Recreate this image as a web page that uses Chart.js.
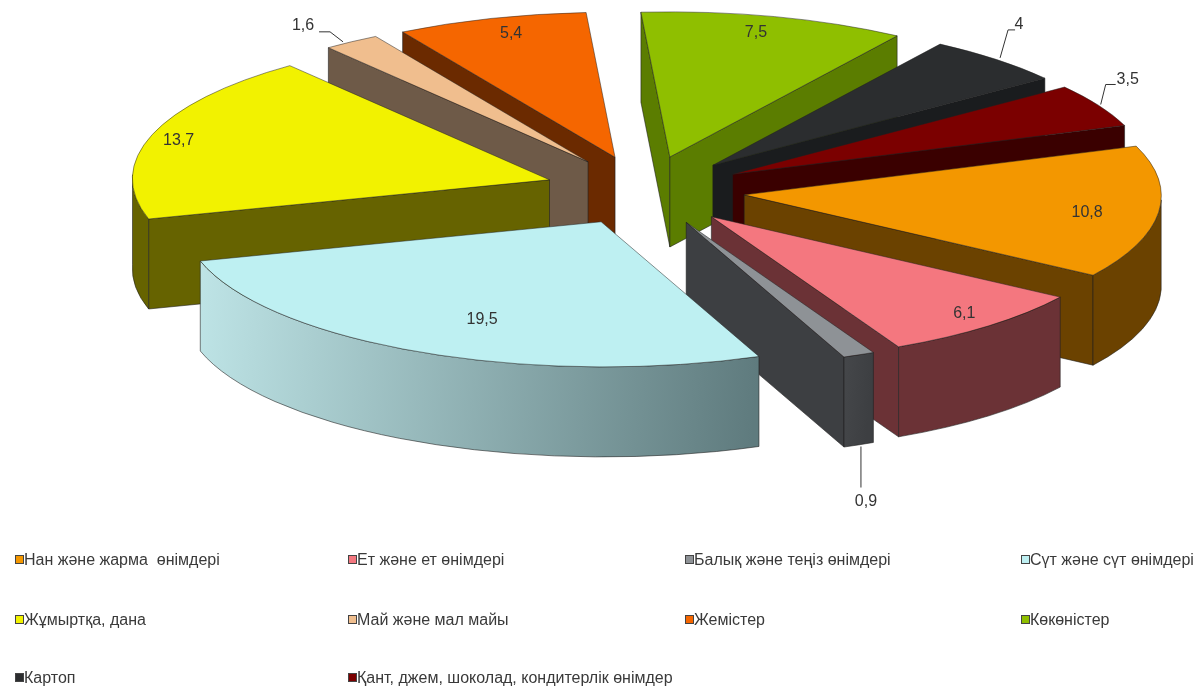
<!DOCTYPE html>
<html>
<head>
<meta charset="utf-8">
<title>Pie</title>
<script src="https://cdn.jsdelivr.net/npm/chart.js@4"></script>
<style>
  html, body { margin: 0; padding: 0; background: #fff; }
  #wrap { position: relative; width: 1200px; height: 688px; overflow: hidden; }
  #pie { position: absolute; left: 0; top: 0; }
  .leg { position: absolute; font: 16px 'Liberation Sans', Arial, sans-serif; color: #3a3a3a; white-space: pre; line-height: 16px; }
  .leg i { display: inline-block; width: 7px; height: 7px; border: 1px solid #444; margin-right: 0; vertical-align: 1px; }
</style>
</head>
<body>
<div id="wrap">
  <canvas id="pie" width="1200" height="688"></canvas>
</div>
<script>
const categories = ['Нан және жарма  өнімдері', 'Ет және ет өнімдері', 'Балық және теңіз өнімдері', 'Сүт және сүт өнімдері', 'Жұмыртқа, дана', 'Май және мал майы', 'Жемістер', 'Көкөністер', 'Картоп', 'Қант, джем, шоколад, кондитерлік өнімдер'];
const values = [10.8, 6.1, 0.9, 19.5, 13.7, 1.6, 5.4, 7.5, 4, 3.5];

const topColors = ['#F39700', '#F4777F', '#8E9296', '#BEF0F2', '#F2F200', '#F0BE8E', '#F56600', '#8FBF00', '#2B2D2F', '#7B0000'];
const wallColors = ['#6B4200', '#6B3236', '#3D3F42', '#5F7B7E', '#666300', '#6E5A48', '#6B2A00', '#5B7D00', '#1A1C1E', '#3A0000'];
const curveFrom = ['#6B4200', '#6B3236', '#45474A', '#BEE4E6', '#666300', '#6E5A48', '#6B2A00', '#5B7D00', '#1A1C1E', '#3A0000'];

// fake 3d: the library lays out a flat pie, this squashes it on screen
const pieCenter = { x: 650, y: 190 };
const radiusX = 417, radiusY = 145, depth = 90;
const explode = 100;
// slight skew to stand in for the original's perspective
const skewX = -0.08, skewY = 0.012, skewOrigin = { x: 600, y: 125 };
const drop = { y: depth / (1 - skewX * skewY), x: -skewX * depth / (1 - skewX * skewY) };

// inside labels: [x, y] spots are fraction of radius and fraction across the slice
const labelSpots = [[0.82, 0.58], [0.9, 0.58], null, [0.74, 0.5], [0.94, 0.51], null, [0.886, 0.58], [0.872, 0.51], null, null];
// outside labels: leader points and text, as offsets from the slice's rim
const leaders = {
  2: { line: [[-16, 95], [-16, 136]], text: [-11, 150] },
  5: { line: [[-2, -3], [-15, -13], [-26, -13]], text: [-42, -19] },
  8: { line: [[9, 3], [17, -25], [24, -25]], text: [28, -30] },
  9: { line: [[4, 5], [9, -15], [19, -15]], text: [31, -20] }
};

const legendCols = [15, 348, 685, 1021];
const legendRows = [552, 612, 670];

function project(el) {
  const sx = radiusX / el.outerRadius, sy = radiusY / el.outerRadius;
  const mid = (el.startAngle + el.endAngle) / 2;
  return {
    sx, sy, mid,
    ax: pieCenter.x + Math.cos(mid) * explode,
    ay: pieCenter.y + Math.sin(mid) * explode * radiusY / radiusX
  };
}

function quad(ctx, pts, fill) {
  ctx.beginPath();
  pts.forEach((p, i) => i ? ctx.lineTo(p[0], p[1]) : ctx.moveTo(p[0], p[1]));
  ctx.closePath();
  ctx.fillStyle = fill;
  ctx.fill();
  ctx.stroke();
}

function drawWalls(ctx, el, i) {
  const p = project(el);
  const a0 = el.startAngle, a1 = el.endAngle;
  const edge = a => [p.ax + Math.cos(a) * radiusX, p.ay + Math.sin(a) * radiusY];
  const wall = a => {
    const e = edge(a);
    return [[p.ax, p.ay], e, [e[0] + drop.x, e[1] + drop.y], [p.ax + drop.x, p.ay + drop.y]];
  };
  ctx.lineWidth = 0.8;
  ctx.strokeStyle = 'rgba(30,30,30,0.7)';
  if (Math.cos(a0) < 0) quad(ctx, wall(a0), wallColors[i]);
  if (Math.cos(a1) > 0) quad(ctx, wall(a1), wallColors[i]);

  const from = Math.max(a0, 0), to = Math.min(a1, Math.PI);
  if (from < to) {
    const xA = edge(from)[0], xB = edge(to)[0];
    const grad = ctx.createLinearGradient(Math.min(xA, xB), 0, Math.max(xA, xB), 0);
    grad.addColorStop(0, curveFrom[i]);
    grad.addColorStop(1, wallColors[i]);
    ctx.beginPath();
    ctx.ellipse(p.ax, p.ay, radiusX, radiusY, 0, from, to);
    ctx.ellipse(p.ax + drop.x, p.ay + drop.y, radiusX, radiusY, 0, to, from, true);
    ctx.closePath();
    ctx.fillStyle = grad;
    ctx.fill();
    ctx.stroke();
  }
}

function drawTop(ctx, chart, el) {
  const p = project(el);
  ctx.save();
  ctx.translate(p.ax, p.ay);
  ctx.scale(p.sx, p.sy);
  ctx.translate(-el.x, -el.y);
  el.draw(ctx, chart.chartArea);
  ctx.restore();
  ctx.beginPath();
  ctx.moveTo(p.ax, p.ay);
  ctx.ellipse(p.ax, p.ay, radiusX, radiusY, 0, el.startAngle, el.endAngle);
  ctx.closePath();
  ctx.lineWidth = 0.8;
  ctx.strokeStyle = 'rgba(30,30,30,0.6)';
  ctx.stroke();
}

const pie3d = {
  id: 'pie3d',
  beforeDatasetsDraw(chart) {
    const ctx = chart.ctx;
    const arcs = chart.getDatasetMeta(0).data.map((el, i) => ({ el, i }));
    const backFirst = arcs.sort((a, b) => Math.sin(project(a.el).mid) - Math.sin(project(b.el).mid));
    ctx.save();
    ctx.transform(1, skewY, skewX, 1, -skewX * skewOrigin.y, -skewY * skewOrigin.x);
    backFirst.forEach(({ el, i }) => {
      drawWalls(ctx, el, i);
      drawTop(ctx, chart, el);
    });
    ctx.restore();
    return false;
  },
  afterDraw(chart) {
    const ctx = chart.ctx;
    ctx.save();
    ctx.font = "16px 'Liberation Sans', Arial, sans-serif";
    ctx.textBaseline = 'middle';
    chart.getDatasetMeta(0).data.forEach((el, i) => {
      const p = project(el);
      const text = String(values[i]).replace('.', ',');
      ctx.fillStyle = '#333';
      ctx.textAlign = 'center';
      if (labelSpots[i]) {
        const [f, t] = labelSpots[i];
        const a = el.startAngle + (el.endAngle - el.startAngle) * t;
        ctx.fillText(text, p.ax + Math.cos(a) * radiusX * f, p.ay + Math.sin(a) * radiusY * f);
      } else {
        const rimX = p.ax + Math.cos(p.mid) * radiusX, rimY = p.ay + Math.sin(p.mid) * radiusY;
        const lead = leaders[i];
        ctx.beginPath();
        lead.line.forEach((q, k) => k ? ctx.lineTo(rimX + q[0], rimY + q[1]) : ctx.moveTo(rimX + q[0], rimY + q[1]));
        ctx.lineWidth = 1;
        ctx.strokeStyle = '#333';
        ctx.stroke();
        ctx.fillText(text, rimX + lead.text[0], rimY + lead.text[1]);
      }
    });
    ctx.restore();
  }
};

new Chart(document.getElementById('pie'), {
  type: 'pie',
  data: {
    labels: categories,
    datasets: [{ data: values, backgroundColor: topColors, borderWidth: 0 }]
  },
  options: {
    responsive: false,
    animation: false,
    rotation: 68.4,
    plugins: { legend: { display: false }, tooltip: { enabled: false } }
  },
  plugins: [pie3d]
});

// legend sits in a 4 column grid, chart.js legend can't do that
const wrap = document.getElementById('wrap');
categories.forEach((name, i) => {
  const row = document.createElement('div');
  row.className = 'leg';
  row.style.left = legendCols[i % 4] + 'px';
  row.style.top = legendRows[Math.floor(i / 4)] + 'px';
  row.innerHTML = `<i style="background:${topColors[i]}"></i>`;
  row.appendChild(document.createTextNode(name));
  wrap.appendChild(row);
});
</script>
</body>
</html>
